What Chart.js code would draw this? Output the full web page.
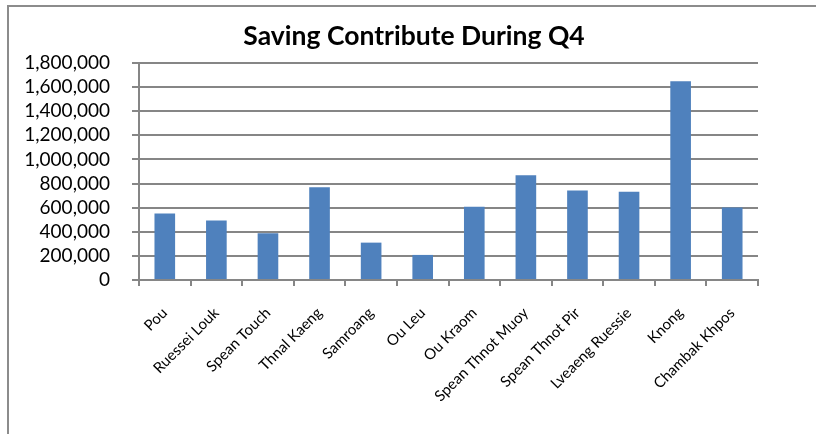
<!doctype html>
<html>

<head>
	<title>Saving Contribute During Q4</title>
	<script src="https://cdn.jsdelivr.net/npm/chart.js@4.4.1/dist/chart.umd.min.js"></script>
	<style>
	html, body {
		margin: 0;
		padding: 0;
		background: #fff;
		overflow: hidden;
	}
	#frame {
		position: absolute;
		left: 7px;
		top: 5px;
		width: 900px;
		height: 600px;
		border-left: 2px solid #8c8c8c;
		border-top: 2px solid #8c8c8c;
	}
	#container {
		position: absolute;
		left: 0;
		top: 0;
		width: 816px;
		height: 434px;
	}
	</style>
</head>

<body>
	<div id="frame"></div>
	<div id="container">
		<canvas id="bar-chart" width="816" height="434"></canvas>
	</div>
<script>

var chartTitle = 'Saving Contribute During Q4';
var categories = ["Pou", "Ruessei Louk", "Spean Touch", "Thnal Kaeng", "Samroang", "Ou Leu",
  "Ou Kraom", "Spean Thnot Muoy", "Spean Thnot Pir", "Lveaeng Ruessie", "Knong", "Chambak Khpos"];
var savings = [551000, 494000, 388000, 770000, 310000, 208000,
  607000, 869000, 742000, 731000, 1648000, 601000];
var yTicks = [0, 200000, 400000, 600000, 800000, 1000000, 1200000, 1400000, 1600000, 1800000];

var gridGray = '#868686';

// title is drawn by hand so it can sit a little right of the canvas centre, like the original
var titlePlugin = {
  id: 'titleText',
  afterDraw: function(chart) {
    var ctx = chart.ctx;
    ctx.save();
    ctx.fillStyle = '#000';
    ctx.font = 'bold 26.5px Lato';
    ctx.textAlign = 'center';
    ctx.textBaseline = 'alphabetic';
    ctx.fillText(chartTitle, 414, 45);
    ctx.restore();
  }
};

new Chart(document.getElementById("bar-chart"), {
  type: 'bar',
  data: {
    labels: categories,
    datasets: [
      {
        label: "Saving",
        backgroundColor: '#4F81BD',
        data: savings,
        barPercentage: 0.4,
        categoryPercentage: 1.0
      }
    ]
  },
  plugins: [titlePlugin],
  options: {
    responsive: false,
    animation: false,
    layout: { padding: { left: 0, right: 58, top: 63, bottom: 0 } },
    plugins: {
      legend: { display: false },
      tooltip: { enabled: false },
      title: { display: false }
    },
    scales: {
      x: {
        grid: { display: true, drawOnChartArea: false, drawTicks: true, tickLength: 6, color: gridGray, lineWidth: 2 },
        border: { display: true, color: gridGray, width: 2 },
        ticks: {
          color: '#000',
          font: { family: 'Lato', size: 15 },
          minRotation: 45,
          maxRotation: 45,
          autoSkip: false,
          padding: 18
        },
        afterFit: function(scale) { scale.height = 154; }
      },
      y: {
        min: 0,
        max: 1800000,
        afterBuildTicks: function(scale) {
          scale.ticks = yTicks.map(function(v) { return { value: v }; });
        },
        grid: { color: gridGray, lineWidth: 2, tickLength: 7 },
        border: { display: true, color: gridGray, width: 2 },
        ticks: {
          color: '#000',
          font: { family: 'Lato', size: 19 },
          padding: 22,
          autoSkip: false,
          callback: function(v) { return v.toLocaleString('en-US'); }
        },
        afterFit: function(scale) { scale.width = 139; }
      }
    }
  }
});

</script>
</body>

</html>
